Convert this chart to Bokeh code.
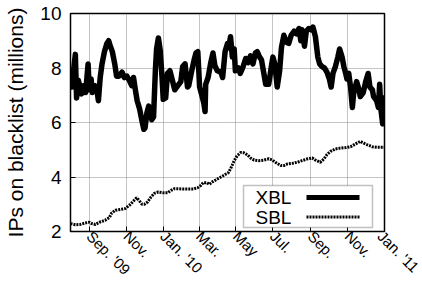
import pandas as pd
from math import pi
from bokeh.plotting import figure
from bokeh.models import FixedTicker, Range1d, BoxAnnotation, Label, Arrow
from bokeh.embed import file_html
from bokeh.resources import INLINE

START = "2009-08-01"
END = "2011-01-01"

# XBL: days since START and values (millions)
xbl_day = [0, 2, 8, 10, 13, 18, 21, 25, 29, 31, 34, 36, 40, 43, 46, 49, 52, 56, 60, 63,
           65, 69, 73, 76, 80, 85, 89, 93, 97, 101, 104, 107, 110, 114, 118, 121, 123, 126, 129, 131,
           134, 137, 140, 142, 145, 148, 151, 153, 157, 160, 164, 168, 172, 177, 182, 185, 189, 193, 195, 200,
           204, 207, 210, 213, 216, 220, 222, 223, 227, 231, 235, 238, 242, 248, 251, 255, 259, 261, 264, 267,
           270, 272, 277, 280, 284, 289, 293, 297, 301, 305, 308, 312, 315, 319, 322, 327, 332, 334, 337, 341,
           345, 348, 352, 356, 360, 364, 369, 373, 377, 380, 382, 386, 389, 393, 397, 400, 404, 408, 411, 415,
           419, 423, 427, 430, 433, 437, 441, 444, 448, 451, 454, 456, 459, 462, 465, 467, 472, 476, 478, 483,
           487, 491, 494, 498, 500, 505, 508, 510, 512, 515, 518]
xbl_val = [7.6, 7.3, 8.5, 6.9, 7.55, 7.05, 7.35, 7.1, 8.15, 7.2, 7.6, 7.1, 7.35, 7.3, 6.8, 7.65, 8.15, 8.6, 8.9, 9.0,
           8.85, 8.6, 8.15, 7.7, 7.7, 7.85, 7.65, 7.7, 7.55, 7.35, 7.65, 7.2, 6.8, 6.5, 6.05, 5.75, 5.8, 6.35, 6.6, 6.5,
           6.1, 6.2, 7.9, 8.7, 9.1, 8.65, 7.65, 6.85, 6.9, 7.8, 7.9, 7.55, 7.2, 7.35, 7.5, 8.05, 8.15, 7.3, 7.35, 7.9,
           8.3, 8.55, 8.6, 7.3, 7.05, 6.7, 6.4, 7.4, 7.65, 8.15, 8.55, 8.1, 7.9, 7.85, 7.65, 8.6, 8.9, 8.75, 9.15, 8.4,
           8.7, 7.9, 8.0, 7.8, 8.0, 8.35, 8.2, 8.45, 8.15, 8.55, 8.6, 8.4, 8.3, 7.8, 7.4, 7.4, 8.15, 8.4, 8.15, 7.3,
           7.9, 8.75, 9.2, 8.95, 8.9, 9.2, 9.35, 9.25, 9.45, 9.0, 9.4, 8.8, 9.35, 9.45, 9.4, 9.5, 9.15, 8.4, 8.15, 8.05,
           8.0, 7.85, 7.6, 7.3, 7.8, 8.05, 8.4, 8.7, 8.4, 8.05, 7.8, 7.6, 7.8, 7.3, 6.55, 7.05, 7.5, 7.2, 6.95, 7.1,
           7.5, 7.8, 7.3, 7.2, 6.95, 6.8, 6.55, 7.4, 6.5, 5.95, 7.0]

# SBL: days since START and values (millions)
sbl_day = [0, 8, 16, 24, 31, 35, 41, 49, 57, 64, 68, 74, 82, 90, 97, 104, 109, 113, 118, 122,
           127, 133, 139, 145, 153, 160, 166, 171, 178, 186, 195, 203, 210, 215, 219, 225, 229, 234, 241, 248,
           255, 260, 264, 270, 275, 281, 286, 292, 297, 303, 311, 319, 327, 333, 338, 347, 352, 358, 366, 374,
           382, 390, 399, 404, 412, 418, 423, 429, 437, 445, 454, 462, 470, 478, 484, 489, 498, 506, 514, 518]
sbl_val = [2.29, 2.25, 2.26, 2.31, 2.34, 2.29, 2.26, 2.35, 2.41, 2.51, 2.68, 2.78, 2.81, 2.84, 2.96, 3.12, 3.24, 3.14, 3.0, 3.0,
           3.08, 3.27, 3.41, 3.45, 3.42, 3.42, 3.51, 3.57, 3.57, 3.56, 3.56, 3.56, 3.61, 3.69, 3.79, 3.79, 3.73, 3.82, 3.91, 4.0,
           4.09, 4.15, 4.3, 4.6, 4.78, 4.9, 4.89, 4.81, 4.7, 4.62, 4.6, 4.62, 4.67, 4.62, 4.54, 4.42, 4.42, 4.48, 4.5, 4.54,
           4.6, 4.66, 4.7, 4.62, 4.54, 4.66, 4.82, 4.94, 5.03, 5.06, 5.08, 5.11, 5.21, 5.31, 5.24, 5.19, 5.11, 5.09, 5.09, 5.09]

series_names = ["XBL", "SBL"]
tick_dates = ["2009-09-01", "2009-11-01", "2010-01-01", "2010-03-01", "2010-05-01",
              "2010-07-01", "2010-09-01", "2010-11-01", "2011-01-01"]
tick_labels = ["Sep. '09", "Nov.", "Jan. '10", "Mar.", "May", "Jul.", "Sep.", "Nov.", "Jan. '11"]
y_ticks = [2, 4, 6, 8, 10]
y_grid = [4, 6, 8]
y_label = "IPs on blacklist (millions)"

FONT = "Liberation Sans"

start = pd.Timestamp(START)
xbl_x = start + pd.to_timedelta(xbl_day, unit="D")
sbl_x = start + pd.to_timedelta(sbl_day, unit="D")
tick_ms = [int(pd.Timestamp(d).value // 10**6) for d in tick_dates]
overrides = {ms: lab for ms, lab in zip(tick_ms, tick_labels)}

p = figure(width=422, height=287, x_axis_type="datetime",
           x_range=Range1d(start, pd.Timestamp(END)), y_range=Range1d(2, 10),
           output_backend="svg", toolbar_location=None,
           min_border_left=70, min_border_right=38, min_border_top=13, min_border_bottom=56)
p.background_fill_color = "white"
p.border_fill_color = "white"
p.outline_line_color = "black"
p.outline_line_width = 1.5
p.outline_line_alpha = 1.0

# grid
p.xgrid.ticker = FixedTicker(ticks=tick_ms)
p.ygrid.ticker = FixedTicker(ticks=y_grid)
for g in (p.xgrid, p.ygrid):
    g.grid_line_color = "#888888"
    g.grid_line_dash = "1 1"
    g.grid_line_width = 1

# x axis
xa = p.xaxis[0]
xa.ticker = FixedTicker(ticks=tick_ms)
xa.major_label_overrides = overrides
xa.major_label_orientation = -pi / 4
xa.major_label_text_font = FONT
xa.major_label_text_font_size = "15px"
xa.major_label_text_color = "black"
xa.major_label_standoff = 2
xa.axis_line_color = None
xa.major_tick_in = 5
xa.major_tick_out = 0
xa.major_tick_line_color = "black"
xa.minor_tick_line_color = None

# y axis
ya = p.yaxis[0]
ya.ticker = FixedTicker(ticks=y_ticks)
ya.major_label_text_font = FONT
ya.major_label_text_font_size = "19px"
ya.major_label_text_color = "black"
ya.major_label_standoff = 9
ya.axis_line_color = None
ya.major_tick_in = 5
ya.major_tick_out = 0
ya.major_tick_line_color = "black"
ya.minor_tick_line_color = None
ya.axis_label = y_label
ya.axis_label_text_font = FONT
ya.axis_label_text_font_size = "21px"
ya.axis_label_text_font_style = "normal"
ya.axis_label_text_color = "black"
ya.axis_label_standoff = 10

# data
p.line(xbl_x, xbl_val, line_width=5.5, color="black", line_join="round")
p.line(sbl_x, sbl_val, line_width=3, color="black", line_dash="2 1")

# legend (gnuplot style: text then sample), screen units relative to frame
p.add_layout(BoxAnnotation(left=173, right=302, bottom=4, top=46,
                           left_units="screen", right_units="screen",
                           bottom_units="screen", top_units="screen",
                           fill_color="white", fill_alpha=1.0,
                           line_color="#333333", line_width=1.5))
leg_y = [34, 14.5]
leg_w = [5, 3]
leg_dash = ["solid", "2 1"]
for name, yy, lw, dash in zip(series_names, leg_y, leg_w, leg_dash):
    p.add_layout(Label(x=185, y=yy, x_units="screen", y_units="screen", text=name,
                       text_font=FONT, text_font_size="19px", text_baseline="middle",
                       text_align="left", text_color="black"))
    p.add_layout(Arrow(x_start=236, y_start=yy, x_end=289, y_end=yy,
                       start_units="screen", end_units="screen", start=None, end=None,
                       line_width=lw, line_dash=dash, line_color="black"))

open("out.html", "w").write(file_html(p, INLINE))
